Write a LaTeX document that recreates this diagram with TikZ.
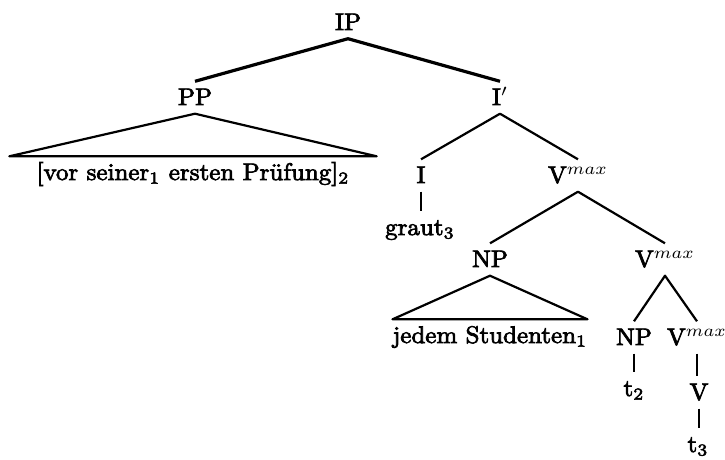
\documentclass[tikz,border=0pt]{standalone}
\usepackage{fontspec}
\usepackage{graphicx}
% labels are set at 10pt and enlarged, keeping the 10pt letter shapes
\newfontface\labfont{Latin Modern Roman}[FakeBold=3]
\newcommand{\lab}[1]{\scalebox{2.5}[2.4]{\labfont #1}}
\begin{document}
\begin{tikzpicture}[x=1pt,y=-1pt,
  lbl/.style={anchor=base, inner xsep=1pt, inner ysep=7.5pt,
    text height=16pt, text depth=1pt, font=\normalsize},
  topedge/.style={line width=3.2pt, line join=round},
  edge/.style={line width=2.2pt, line join=round}]
\useasboundingbox (0,0) rectangle (725,459);

% category labels
\node[lbl] (IP)   at (348,30)  {\lab{IP}};
\node[lbl] (PP)   at (195,105) {\lab{PP}};
\node[lbl] (Ibar) at (500,105) {\lab{I$'$}};
\node[lbl] (I)    at (421,183) {\lab{I}};
\node[lbl] (V1)   at (578,183) {\lab{V$^{max}$}};
\node[lbl] (NP1)  at (490,267) {\lab{NP}};
\node[lbl] (V2)   at (665,267) {\lab{V$^{max}$}};
\node[lbl] (NP2)  at (634,345) {\lab{NP}};
\node[lbl] (V3)   at (697,345) {\lab{V$^{max}$}};
\node[lbl] (V)    at (699,400) {\lab{V}};

% terminal strings
\node[lbl, inner xsep=27pt] (pp-str) at (193,180) {\lab{[vor seiner\textsubscript{1} ersten Prüfung]\textsubscript{2}}};
\node[lbl] (graut) at (420,235) {\lab{graut\textsubscript{3}}};
\node[lbl, inner xsep=0pt] (np-str) at (490,343) {\lab{jedem Studenten\textsubscript{1}}};
\node[lbl] (t2) at (634,396) {\lab{t\textsubscript{2}}};
\node[lbl] (t3) at (698,452) {\lab{t\textsubscript{3}}};

% branches
\draw[topedge] (PP.north) -- (IP.south) -- (Ibar.north);
\draw[edge] (I.north) -- (Ibar.south) -- (V1.north);
\draw[edge] (NP1.north) -- (V1.south) -- (V2.north);
\draw[edge] (NP2.north) -- (V2.south) -- (V3.north);
\draw[edge] (I.south) -- (I.south |- graut.north);
\draw[edge] (NP2.south) -- (NP2.south |- t2.north);
\draw[edge] (V3.south) -- (V3.south |- V.north);
\draw[edge] (V.south) -- (V.south |- t3.north);

% triangles over unanalysed phrases
\draw[edge] (PP.south) -- (pp-str.north west) -- (pp-str.north east) -- cycle;
\draw[edge] (NP1.south) -- (np-str.north west) -- (np-str.north east) -- cycle;
\end{tikzpicture}
\end{document}
